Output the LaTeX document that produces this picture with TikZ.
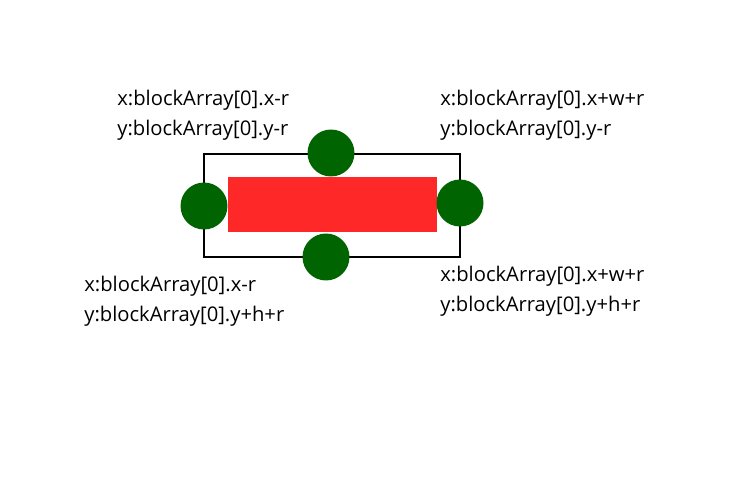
\documentclass[tikz,border=0pt]{standalone}
\usepackage{fontspec}
\setmainfont{Open Sans}
\usetikzlibrary{positioning}
\definecolor{dotgreen}{RGB}{0,100,0}
\definecolor{blockred}{RGB}{255,40,40}
\tikzset{
  dot/.style={circle,fill=dotgreen,minimum size=0.94cm,inner sep=0pt},
  lbl/.style={anchor=north west,align=left,inner sep=0pt,font=\fontsize{11.5}{17}\selectfont}
}
\begin{document}
\begin{tikzpicture}[x=0.02cm,y=-0.02cm]
\useasboundingbox (0,0) rectangle (750,500);
\draw[line width=0.6pt] (204,154) rectangle (460,257);
\node[fill=blockred,minimum width=4.18cm,minimum height=1.1cm,inner sep=0pt] (block) at (332.5,204.5) {};
\node[dot] (top) at (331,153) {};
\node[dot] (left) at (204,206) {};
\node[dot] (right) at (460,203) {};
\node[dot] (bottom) at (326,257) {};
\node[lbl] (tl) at (117,90) {x:blockArray[0].x-r\\y:blockArray[0].y-r};
\node[lbl] (tr) at (440,90) {x:blockArray[0].x+w+r\\y:blockArray[0].y-r};
\node[lbl] (bl) at (84,276) {x:blockArray[0].x-r\\y:blockArray[0].y+h+r};
\node[lbl] (br) at (440,266) {x:blockArray[0].x+w+r\\y:blockArray[0].y+h+r};
\end{tikzpicture}
\end{document}
